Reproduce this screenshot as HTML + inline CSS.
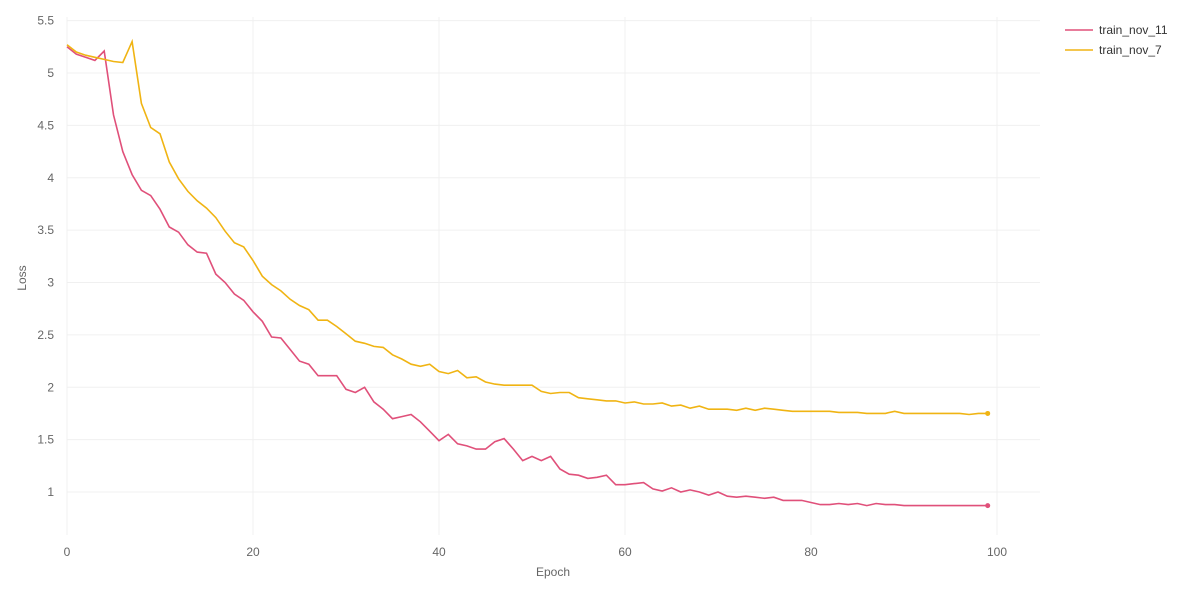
<!DOCTYPE html>
<html><head><meta charset="utf-8"><style>
body{margin:0;background:#fff;font-family:"Liberation Sans",sans-serif;}
svg text{font-family:"Liberation Sans",sans-serif;}
</style></head><body>
<svg id="c" width="1200" height="600"></svg>
<script>
const epochs = Array.from({length:100},(_,i)=>i);
const trainNov11 = [5.25,5.18,5.15,5.12,5.21,4.6,4.25,4.03,3.88,3.83,3.7,3.53,3.48,3.36,3.29,3.28,3.08,3.0,2.89,2.83,2.72,2.63,2.48,2.47,2.36,2.25,2.22,2.11,2.11,2.11,1.98,1.95,2.0,1.86,1.79,1.7,1.72,1.74,1.67,1.58,1.49,1.55,1.46,1.44,1.41,1.41,1.48,1.51,1.41,1.3,1.34,1.3,1.34,1.22,1.17,1.16,1.13,1.14,1.16,1.07,1.07,1.08,1.09,1.03,1.01,1.04,1.0,1.02,1.0,0.97,1.0,0.96,0.95,0.96,0.95,0.94,0.95,0.92,0.92,0.92,0.9,0.88,0.88,0.89,0.88,0.89,0.87,0.89,0.88,0.88,0.87,0.87,0.87,0.87,0.87,0.87,0.87,0.87,0.87,0.87];
const trainNov7 = [5.27,5.2,5.17,5.15,5.13,5.11,5.1,5.3,4.71,4.48,4.42,4.15,3.99,3.87,3.78,3.71,3.62,3.49,3.38,3.34,3.21,3.06,2.98,2.92,2.84,2.78,2.74,2.64,2.64,2.58,2.51,2.44,2.42,2.39,2.38,2.31,2.27,2.22,2.2,2.22,2.15,2.13,2.16,2.09,2.1,2.05,2.03,2.02,2.02,2.02,2.02,1.96,1.94,1.95,1.95,1.9,1.89,1.88,1.87,1.87,1.85,1.86,1.84,1.84,1.85,1.82,1.83,1.8,1.82,1.79,1.79,1.79,1.78,1.8,1.78,1.8,1.79,1.78,1.77,1.77,1.77,1.77,1.77,1.76,1.76,1.76,1.75,1.75,1.75,1.77,1.75,1.75,1.75,1.75,1.75,1.75,1.75,1.74,1.75,1.75];
const xTicks = [0,20,40,60,80,100];
const yTicks = [1,1.5,2,2.5,3,3.5,4,4.5,5,5.5];
const seriesNames = ["train_nov_11","train_nov_7"];
const seriesColors = ["#e0507a","#f0b413"];

const NS="http://www.w3.org/2000/svg";
const svg=document.getElementById('c');
const X=v=>67+v*9.3;
const Y=v=>73+(5-v)*104.75;
function mk(t,a){const e=document.createElementNS(NS,t);for(const k in a)e.setAttribute(k,a[k]);svg.appendChild(e);return e;}
yTicks.forEach(t=>{
  const l=mk('line',{x1:67,x2:1040,y1:Y(t),y2:Y(t),stroke:'#f0f0f0'});
  
  
  const tx=mk('text',{x:54,y:Y(t)+4,'text-anchor':'end','font-size':12,fill:'#666'});
  tx.textContent=t;
  
  
});
xTicks.forEach(t=>{
  const l=mk('line',{x1:X(t),x2:X(t),y1:17,y2:535,stroke:'#f0f0f0'});
  
  
  const tx=mk('text',{x:X(t),y:556,'text-anchor':'middle','font-size':12,fill:'#666'});
  tx.textContent=t;
  
  
});
const xt=mk('text',{x:553,y:576,'text-anchor':'middle','font-size':12,fill:'#666'});
xt.textContent='Epoch';


const yt=mk('text',{x:26,y:278,'text-anchor':'middle','font-size':12,fill:'#666',transform:'rotate(-90 26 278)'});
yt.textContent='Loss';


[trainNov11,trainNov7].forEach((s,i)=>{
  const d=s.map((v,j)=>(j?'L':'M')+X(epochs[j]).toFixed(1)+','+Y(v).toFixed(1)).join('');
  const p=mk('path',{d:d,fill:'none',stroke:seriesColors[i],'stroke-width':1.6});
  
  
  const last=s.length-1;
  const c=mk('circle',{cx:X(epochs[last]),cy:Y(s[last]),r:2.5,fill:seriesColors[i]});
  
  
  const ll=mk('line',{x1:1065,x2:1093,y1:30+i*20,y2:30+i*20,stroke:seriesColors[i],'stroke-width':1.6});
  
  
  const lt=mk('text',{x:1099,y:34+i*20,'font-size':12,fill:'#333'});
  lt.textContent=seriesNames[i];
  
  
});
</script>
</body></html>
